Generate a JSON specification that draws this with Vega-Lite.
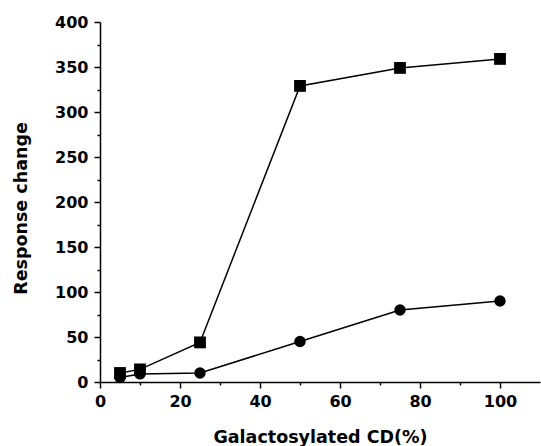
{
  "$schema": "https://vega.github.io/schema/vega-lite/v6.json",
  "width": 440,
  "height": 360,
  "autosize": {"type": "none"},
  "padding": {"left": 100, "top": 22, "right": 1, "bottom": 64},
  "background": "white",
  "config": {
    "view": {"stroke": null},
    "font": "DejaVu Sans",
    "axis": {
      "domainColor": "black",
      "domainWidth": 1.5,
      "tickColor": "black",
      "tickWidth": 1.5,
      "labelFont": "DejaVu Sans",
      "labelFontWeight": "bold",
      "labelFontSize": 16,
      "labelColor": "black",
      "titleFont": "DejaVu Sans",
      "titleFontWeight": "bold",
      "titleFontSize": 17.5,
      "titleColor": "black",
      "grid": false
    }
  },
  "data": {
    "values": [
      {"x": 5, "y": 10, "series": "A"},
      {"x": 10, "y": 14, "series": "A"},
      {"x": 25, "y": 44, "series": "A"},
      {"x": 50, "y": 329, "series": "A"},
      {"x": 75, "y": 349, "series": "A"},
      {"x": 100, "y": 359, "series": "A"},
      {"x": 5, "y": 5, "series": "B"},
      {"x": 10, "y": 9, "series": "B"},
      {"x": 25, "y": 10, "series": "B"},
      {"x": 50, "y": 45, "series": "B"},
      {"x": 75, "y": 80, "series": "B"},
      {"x": 100, "y": 90, "series": "B"}
    ]
  },
  "encoding": {
    "x": {
      "field": "x",
      "type": "quantitative",
      "title": "Galactosylated CD(%)",
      "scale": {"domain": [0, 110], "nice": false, "zero": false},
      "axis": {
        "values": [0, 10, 20, 30, 40, 50, 60, 70, 80, 90, 100],
        "labelExpr": "datum.value % 20 === 0 ? datum.label : ''",
        "tickSize": {"condition": {"test": "datum.value % 20 === 0", "value": 6}, "value": 3},
        "labelPadding": 5,
        "titlePadding": 19,
        "labelFlush": false
      }
    },
    "y": {
      "field": "y",
      "type": "quantitative",
      "title": "Response change",
      "scale": {"domain": [0, 400], "nice": false},
      "axis": {
        "values": [0, 25, 50, 75, 100, 125, 150, 175, 200, 225, 250, 275, 300, 325, 350, 375, 400],
        "labelExpr": "datum.value % 50 === 0 ? datum.label : ''",
        "tickSize": {"condition": {"test": "datum.value % 50 === 0", "value": 6}, "value": 3},
        "labelPadding": 6,
        "titlePadding": 24,
        "titleY": 186,
        "labelFlush": false
      }
    },
    "detail": {"field": "series"}
  },
  "layer": [
    {
      "mark": {"type": "line", "color": "black", "strokeWidth": 1.5}
    },
    {
      "mark": {"type": "point", "filled": true, "opacity": 1, "color": "black"},
      "encoding": {
        "shape": {
          "field": "series",
          "type": "nominal",
          "scale": {"domain": ["A", "B"], "range": ["square", "circle"]},
          "legend": null
        },
        "size": {
          "field": "series",
          "type": "nominal",
          "scale": {"domain": ["A", "B"], "range": [140, 130]},
          "legend": null
        }
      }
    }
  ]
}
